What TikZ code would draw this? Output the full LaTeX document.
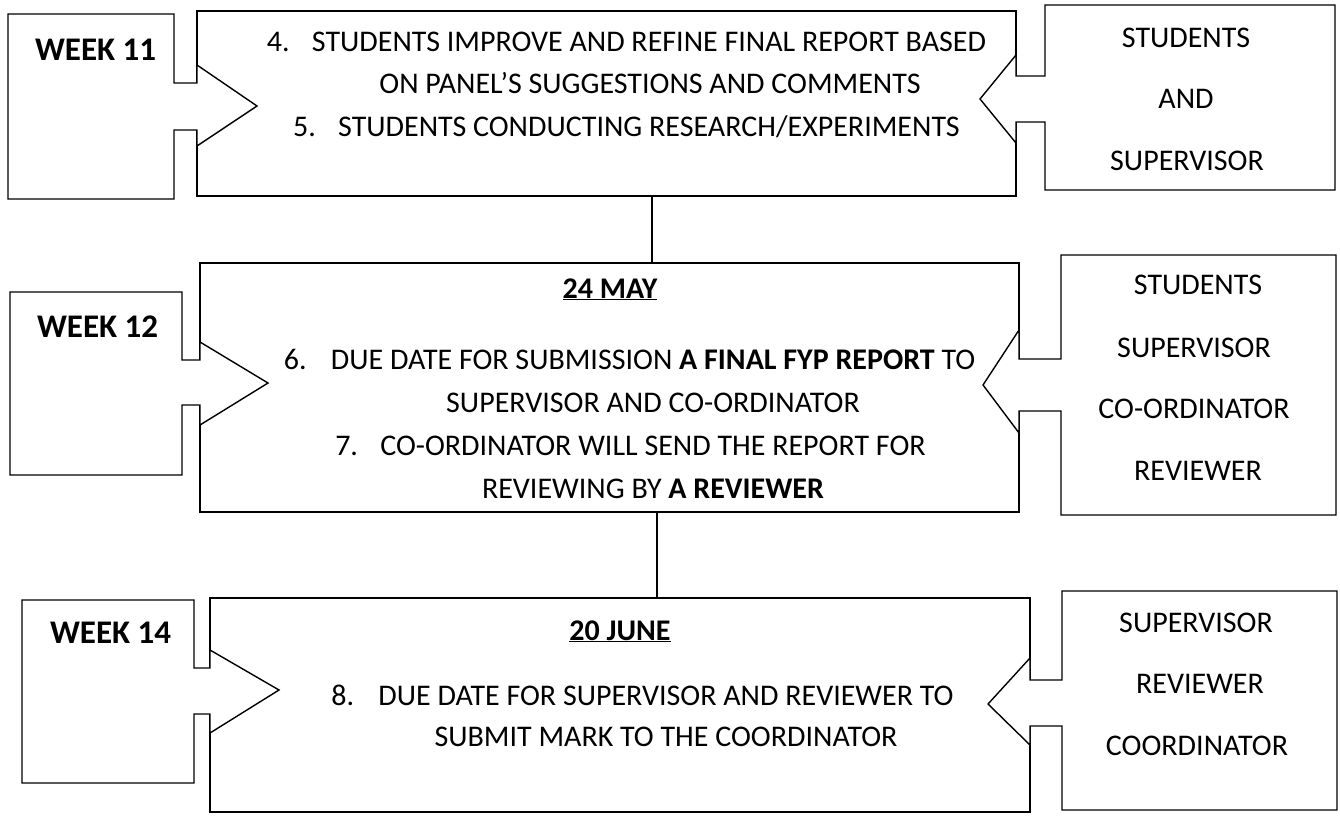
\documentclass[tikz,border=0pt]{standalone}
\usepackage{fontspec}
\setmainfont{Carlito}
\tikzset{
  box/.style={draw, line width=1.4pt, rectangle, inner sep=0pt, outer sep=0pt, anchor=north west},
  callout/.style={draw, fill=white, line width=1.4pt, line join=miter},
  link/.style={draw, line width=1.4pt},
  txt/.style={inner sep=0pt, outer sep=0pt, anchor=base, font=\fontsize{30}{36}\selectfont},
  num/.style={txt, anchor=base west},
  head/.style={txt, font=\fontsize{30}{36}\selectfont\bfseries},
  week/.style={inner sep=0pt, outer sep=0pt, anchor=base west, font=\fontsize{33}{40}\selectfont\bfseries},
}
\begin{document}
\begin{tikzpicture}[x=1pt, y=-1pt]
\fill[white] (0,0) rectangle (1340,819);
\useasboundingbox (0,0) rectangle (1340,819);

% ---------------- middle boxes ----------------
\node[box, minimum width=819pt, minimum height=185pt] (m1) at (197,11) {};
\node[box, minimum width=819pt, minimum height=249pt] (m2) at (200,263) {};
\node[box, minimum width=820pt, minimum height=214pt] (m3) at (210,598) {};

% ---------------- connectors ----------------
\coordinate (c1) at (652,0);
\coordinate (c2) at (657,0);
\draw[link] (m1.south -| c1) -- (m2.north -| c1);
\draw[link] (m2.south -| c2) -- (m3.north -| c2);

% ---------------- left callouts ----------------
\draw[callout] (8,14) -- (174,14) -- (174,83) -- (197,83) -- (197,65) -- (257,106)
  -- (197,146) -- (197,130) -- (174,130) -- (174,199) -- (8,199) -- cycle;
\draw[callout] (10,292) -- (182,292) -- (182,360) -- (200,360) -- (200,342) -- (268,383)
  -- (200,425) -- (200,405) -- (182,405) -- (182,475) -- (10,475) -- cycle;
\draw[callout] (22,600) -- (194,600) -- (194,668) -- (210,668) -- (210,650) -- (279,690)
  -- (210,733) -- (210,714) -- (194,714) -- (194,783) -- (22,783) -- cycle;

% ---------------- right callouts ----------------
\draw[callout] (1335,5) -- (1045,5) -- (1045,76) -- (1016,76) -- (1016,55) -- (980,99)
  -- (1016,143) -- (1016,122) -- (1045,122) -- (1045,190) -- (1335,190) -- cycle;
\draw[callout] (1336,255) -- (1061,255) -- (1061,359) -- (1019,359) -- (1019,330) -- (983,385)
  -- (1019,433) -- (1019,411) -- (1061,411) -- (1061,515) -- (1336,515) -- cycle;
\draw[callout] (1337,591) -- (1062,591) -- (1062,680) -- (1030,680) -- (1030,658) -- (988,704)
  -- (1030,745) -- (1030,726) -- (1062,726) -- (1062,810) -- (1337,810) -- cycle;

% ---------------- week labels ----------------
\node[week] (w11) at (35,60) {WEEK 11};
\node[week] (w12) at (37,337) {WEEK 12};
\node[week] (w14) at (50,643) {WEEK 14};

% ---------------- row 1 text ----------------
\node[txt] (t1a) at (649,51) {STUDENTS IMPROVE AND REFINE FINAL REPORT BASED};
\node[num] (n4) at ([xshift=-45pt]t1a.base west) {4.};
\node[txt] (t1b) at (650,93) {ON PANEL'S SUGGESTIONS AND COMMENTS};
\node[txt] (t1c) at (649,136) {STUDENTS CONDUCTING RESEARCH/EXPERIMENTS};
\node[num] (n5) at ([xshift=-45pt]t1c.base west) {5.};

% ---------------- row 2 text ----------------
\node[head] (h2) at (610,298) {\underline{24 MAY}};
\node[txt] (t2a) at (653,369) {DUE DATE FOR SUBMISSION \textbf{A FINAL FYP REPORT} TO};
\node[num] (n6) at ([xshift=-47pt]t2a.base west) {6.};
\node[txt] (t2b) at (653,412) {SUPERVISOR AND CO-ORDINATOR};
\node[txt] (t2c) at (653,455) {CO-ORDINATOR WILL SEND THE REPORT FOR};
\node[num] (n7) at ([xshift=-45pt]t2c.base west) {7.};
\node[txt] (t2d) at (653,498) {REVIEWING BY \textbf{A REVIEWER}};

% ---------------- row 3 text ----------------
\node[head] (h3) at (620,640) {\underline{20 JUNE}};
\node[txt] (t3a) at (666,705) {DUE DATE FOR SUPERVISOR AND REVIEWER TO};
\node[num] (n8) at ([xshift=-47pt]t3a.base west) {8.};
\node[txt] (t3b) at (666,746) {SUBMIT MARK TO THE COORDINATOR};

% ---------------- right texts ----------------
\node[txt] (r1a) at (1186,47) {STUDENTS};
\node[txt] (r1b) at (1186,108) {AND};
\node[txt] (r1c) at (1187,170) {SUPERVISOR};

\node[txt] (r2a) at (1198,294) {STUDENTS};
\node[txt] (r2b) at (1194,357) {SUPERVISOR};
\node[txt] (r2c) at (1194,418) {CO-ORDINATOR};
\node[txt] (r2d) at (1198,480) {REVIEWER};

\node[txt] (r3a) at (1196,632) {SUPERVISOR};
\node[txt] (r3b) at (1200,693) {REVIEWER};
\node[txt] (r3c) at (1197,755) {COORDINATOR};
\end{tikzpicture}
\end{document}
